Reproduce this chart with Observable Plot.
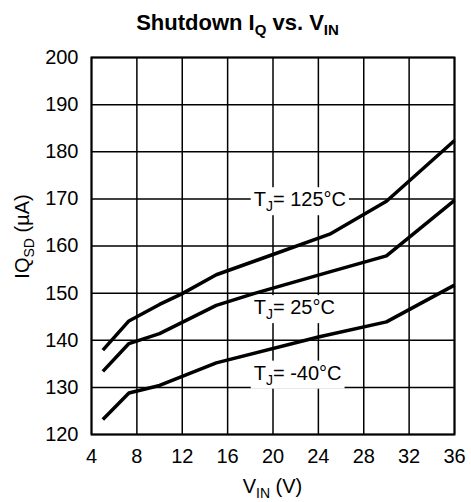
<!DOCTYPE html>
<html>
<head>
<meta charset="utf-8">
<script src="https://cdn.jsdelivr.net/npm/d3@7"></script>
<script src="https://cdn.jsdelivr.net/npm/@observablehq/plot@0.6"></script>
<style>
  html, body { margin: 0; padding: 0; background: white; }
  #title { box-sizing: border-box; width: 471px; height: 44px; padding-top: 12px; padding-left: 4px;
    text-align: center; font-family: "Liberation Sans", Arial, sans-serif; font-weight: bold;
    font-size: 22px; line-height: 22px; color: black; }
  #title sub { font-size: 15px; line-height: 0; vertical-align: -5px; }
  #chart { width: 471px; }
</style>
</head>
<body>
<div id="title">Shutdown I<sub>Q</sub> vs. V<sub>IN</sub></div>
<div id="chart"></div>
<script>
// Data
const vin125 = [5, 7.3, 10, 12, 15, 20, 25, 30, 36];
const iq125  = [137.9, 144.1, 147.6, 149.9, 153.9, 158.2, 162.5, 169.5, 182.4];
const vin25  = [5, 7.3, 10, 15, 18.3, 25, 30, 36];
const iq25   = [133.4, 139.3, 141.4, 147.4, 149.9, 154.5, 157.9, 169.7];
const vinM40 = [5, 7.3, 10, 15, 24, 30, 36];
const iqM40  = [123.2, 128.8, 130.4, 135.2, 140.7, 143.9, 151.7];

const xTicks = [4, 8, 12, 16, 20, 24, 28, 32, 36];
const yTicks = [120, 130, 140, 150, 160, 170, 180, 190, 200];

const labelTemps = ["125", "25", "-40"];
const labelX = [18.3, 18.3, 18.3];
const labelY = [169.8, 146.9, 133.0];

const series = [
  ...vin125.map((v, i) => ({t: "125", v, iq: iq125[i]})),
  ...vin25.map((v, i) => ({t: "25", v, iq: iq25[i]})),
  ...vinM40.map((v, i) => ({t: "-40", v, iq: iqM40[i]}))
];
const labels = labelTemps.map((t, i) => ({t, x: labelX[i], y: labelY[i]}));

const font = "'Liberation Sans', Arial, sans-serif";

const chart = Plot.plot({
  width: 471,
  height: 458,
  marginTop: 13,
  marginBottom: 68,
  marginLeft: 91,
  marginRight: 17,
  style: {fontFamily: font, fontSize: "20px", color: "black", background: "white"},
  x: {domain: [4, 36], ticks: xTicks, tickSize: 0, tickPadding: 14, label: null},
  y: {domain: [120, 200], ticks: yTicks, tickSize: 0, tickPadding: 13, label: null},
  marks: [
    Plot.gridX(xTicks, {stroke: "black", strokeOpacity: 1, strokeWidth: 1.5}),
    Plot.gridY(yTicks, {stroke: "black", strokeOpacity: 1, strokeWidth: 1.5}),
    Plot.text(labels, {
      x: "x", y: "y", text: "t", textAnchor: "start", fontSize: 20, fill: "black",
      render: (index, scales, values, dims, ctx, next) => {
        const g = next(index, scales, values, dims, ctx);
        g.setAttribute("class", "tjlabels");
        return g;
      }
    }),
    Plot.line(series, {x: "v", y: "iq", z: "t", stroke: "black", strokeWidth: 3.5,
      strokeLinejoin: "round", strokeLinecap: "butt"}),
    Plot.frame({stroke: "black", strokeWidth: 2})
  ]
});

document.getElementById("chart").appendChild(chart);

const svg = d3.select(chart);

// Rebuild T_J labels with subscripts and clear boxes behind them
svg.selectAll("g.tjlabels text").each(function() {
  const el = d3.select(this);
  const t = el.text();
  el.text(null);
  el.append("tspan").text("T");
  el.append("tspan").attr("dy", 5).attr("font-size", 14).text("J");
  el.append("tspan").attr("dy", -5).text("= " + t + "°C");
  const b = this.getBBox();
  const tr = this.getAttribute("transform");
  const rect = document.createElementNS("http://www.w3.org/2000/svg", "rect");
  rect.setAttribute("x", b.x - 3);
  rect.setAttribute("y", b.y - 1);
  rect.setAttribute("width", b.width + 6);
  rect.setAttribute("height", b.height + 2);
  rect.setAttribute("fill", "white");
  if (tr) rect.setAttribute("transform", tr);
  this.parentNode.insertBefore(rect, this);
});

// Y axis label
const yl = svg.append("text")
  .attr("transform", "translate(29,192.5) rotate(-90)")
  .attr("text-anchor", "middle")
  .attr("font-family", font)
  .attr("font-size", 20)
  .attr("fill", "black");
yl.append("tspan").text("IQ");
yl.append("tspan").attr("dy", 5).attr("font-size", 14).text("SD");
yl.append("tspan").attr("dy", -5).text(" (µA)");

// X axis label
const xl = svg.append("text")
  .attr("x", 272.5).attr("y", 449)
  .attr("text-anchor", "middle")
  .attr("font-family", font)
  .attr("font-size", 20)
  .attr("fill", "black");
xl.append("tspan").text("V");
xl.append("tspan").attr("dy", 5).attr("font-size", 14).text("IN");
xl.append("tspan").attr("dy", -5).text(" (V)");
</script>
</body>
</html>
